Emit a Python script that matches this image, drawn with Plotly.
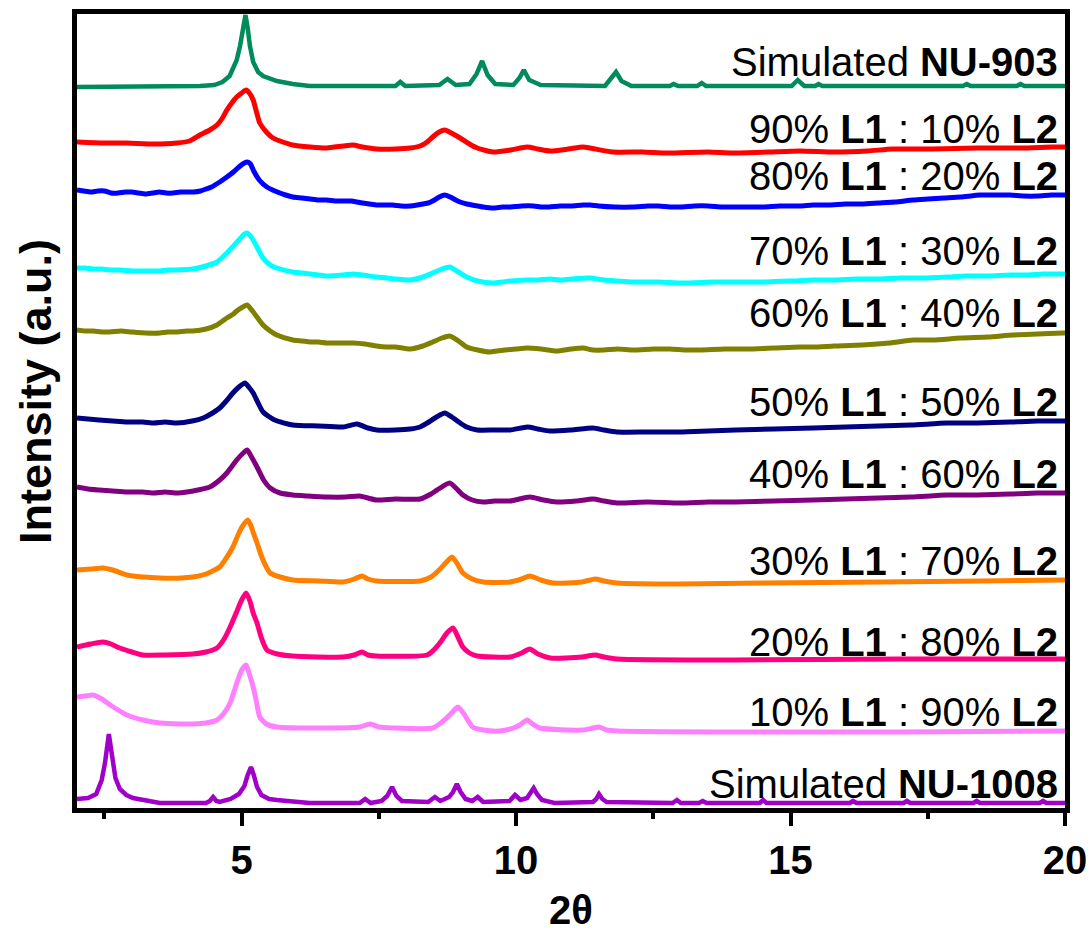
import plotly.graph_objects as go

# 2-theta / intensity (a.u.) pairs for each powder pattern, bottom to top
nu1008 = [(2.00, 9), (2.20, 10), (2.35, 14), (2.45, 28), (2.51, 45), (2.55, 63), (2.58, 74), (2.61, 63),
          (2.65, 48), (2.70, 30), (2.78, 19), (2.90, 13), (3.02, 10), (3.3, 7), (3.51, 5), (4.35, 5),
          (4.42, 7), (4.48, 11), (4.54, 7), (4.60, 6), (4.80, 9), (4.95, 14), (5.05, 22), (5.11, 33),
          (5.17, 41), (5.22, 33), (5.28, 21), (5.36, 13), (5.5, 9), (5.64, 8), (5.95, 6), (6.24, 5),
          (7.15, 5), (7.25, 9), (7.35, 5), (7.55, 7), (7.65, 12), (7.74, 21), (7.82, 12), (7.92, 7),
          (8.40, 6), (8.52, 11), (8.62, 7), (8.78, 11), (8.85, 16), (8.92, 24), (8.99, 16), (9.08, 9),
          (9.2, 7), (9.30, 11), (9.40, 6), (9.88, 7), (9.98, 13), (10.08, 8), (10.20, 10), (10.26, 15),
          (10.32, 20), (10.38, 14), (10.47, 8), (10.70, 5), (11.40, 6), (11.46, 9), (11.51, 14),
          (11.57, 9), (11.65, 6), (12.85, 5), (12.93, 8), (13.0, 5), (13.33, 5), (13.40, 7), (13.47, 5),
          (14.44, 5), (14.5, 8), (14.56, 5), (16.08, 5), (16.14, 7), (16.2, 5), (17.06, 5), (17.12, 7),
          (17.18, 5), (18.33, 5), (18.39, 7), (18.45, 5), (19.54, 5), (19.60, 7), (19.66, 5), (20.0, 5)]

l1_10 = [(2.00, 41), (2.15, 42), (2.29, 43), (2.45, 39), (2.66, 31), (2.91, 23), (3.2, 18), (3.51, 15),
         (3.9, 14), (4.11, 14), (4.35, 15), (4.55, 18), (4.68, 25), (4.79, 35), (4.87, 48), (4.93, 58),
         (5.00, 68), (5.08, 73), (5.14, 64), (5.21, 51), (5.27, 36), (5.33, 21), (5.45, 14), (5.64, 11),
         (6.55, 10), (7.15, 11), (7.34, 14), (7.5, 11), (7.76, 10), (8.48, 10), (8.65, 16), (8.79, 23),
         (8.94, 31), (9.05, 24), (9.21, 11), (9.40, 8), (9.70, 7), (9.95, 10), (10.07, 13), (10.20, 18),
         (10.3, 14), (10.43, 10), (11.22, 8), (11.40, 10), (11.51, 11), (11.65, 8), (11.84, 7),
         (14.0, 6), (17.0, 6), (19.96, 7), (20.0, 7)]

l1_20 = [(2.00, 16), (2.25, 19), (2.47, 21), (2.62, 19), (2.78, 15), (3.0, 11), (3.20, 8), (3.6, 8),
         (4.11, 9), (4.35, 11), (4.55, 15), (4.68, 24), (4.79, 36), (4.90, 50), (5.00, 63), (5.08, 70),
         (5.15, 62), (5.21, 50), (5.28, 40), (5.36, 25), (5.46, 13), (5.65, 9), (5.93, 7), (6.85, 6),
         (7.05, 8), (7.19, 11), (7.3, 8), (7.46, 7), (8.38, 8), (8.50, 13), (8.61, 20), (8.74, 30),
         (8.85, 35), (8.94, 26), (9.03, 16), (9.15, 10), (9.29, 7), (9.89, 6), (10.1, 10), (10.25, 14),
         (10.4, 9), (10.62, 5), (11.2, 6), (11.44, 8), (11.6, 6), (11.84, 4), (14.0, 3), (17.0, 4),
         (19.96, 4), (20.0, 4)]

l1_30 = [(2.00, 18), (2.25, 19), (2.47, 20), (2.65, 18), (2.91, 13), (3.2, 11), (3.51, 10), (3.9, 10),
         (4.11, 11), (4.35, 14), (4.60, 21), (4.72, 30), (4.84, 41), (4.95, 55), (5.03, 63), (5.11, 68),
         (5.17, 62), (5.22, 54), (5.28, 45), (5.36, 32), (5.44, 22), (5.52, 15), (5.7, 11), (5.93, 8),
         (6.4, 7), (6.85, 6), (7.05, 9), (7.19, 12), (7.3, 9), (7.46, 7), (8.25, 7), (8.45, 11),
         (8.56, 16), (8.70, 24), (8.83, 31), (8.93, 24), (9.03, 15), (9.2, 9), (9.40, 6), (9.89, 6),
         (10.1, 9), (10.25, 12), (10.45, 8), (10.67, 5), (11.2, 6), (11.44, 9), (11.6, 7), (11.84, 5),
         (12.98, 4), (14.5, 5), (16.63, 6), (18.5, 7), (19.96, 8), (20.0, 8)]

l1_40 = [(2.00, 21), (2.2, 19), (2.4, 18), (2.65, 17), (2.91, 16), (3.2, 16), (3.4, 15), (3.6, 16),
         (3.82, 15), (4.0, 16), (4.2, 18), (4.42, 21), (4.6, 28), (4.73, 35), (4.91, 48), (5.03, 55),
         (5.10, 58), (5.18, 51), (5.28, 41), (5.40, 28), (5.52, 20), (5.7, 15), (5.93, 13), (6.2, 12),
         (6.55, 11), (6.9, 11), (7.15, 12), (7.3, 10), (7.46, 8), (7.8, 9), (8.25, 9), (8.45, 14),
         (8.56, 18), (8.79, 25), (8.92, 19), (9.03, 13), (9.2, 8), (9.40, 6), (9.6, 7), (9.89, 7),
         (10.25, 11), (10.5, 8), (10.74, 6), (11.1, 7), (11.40, 9), (11.6, 7), (11.84, 5), (12.4, 6),
         (12.98, 5), (13.5, 6), (14.0, 6), (14.7, 7), (15.41, 8), (16.0, 9), (16.6, 10), (17.2, 11),
         (17.85, 13), (18.4, 13), (19.0, 14), (19.5, 15), (19.96, 15), (20.0, 15)]

l1_50 = [(2.00, 20), (2.2, 19), (2.4, 18), (2.65, 17), (2.91, 16), (3.2, 16), (3.4, 15), (3.6, 16),
         (3.82, 15), (4.1, 17), (4.30, 20), (4.47, 25), (4.60, 30), (4.72, 37), (4.84, 45), (4.95, 51),
         (5.06, 55), (5.13, 51), (5.21, 45), (5.30, 35), (5.39, 26), (5.6, 18), (5.93, 13), (6.4, 12),
         (6.85, 11), (7.10, 14), (7.3, 10), (7.46, 8), (7.8, 8), (8.07, 9), (8.25, 11), (8.38, 15),
         (8.55, 21), (8.70, 25), (8.83, 21), (8.98, 15), (9.1, 11), (9.29, 8), (9.6, 8), (9.89, 8),
         (10.21, 11), (10.4, 9), (10.62, 7), (11.0, 8), (11.40, 10), (11.6, 8), (11.84, 6), (12.4, 6),
         (12.98, 6), (13.5, 7), (14.0, 8), (14.7, 9), (15.41, 10), (16.0, 11), (16.6, 12), (17.2, 13),
         (17.85, 15), (18.4, 15), (19.0, 16), (19.5, 17), (19.96, 17), (20.0, 17)]

l1_60 = [(2.00, 28), (2.15, 27), (2.3, 27), (2.45, 26), (2.6, 26), (2.8, 27), (3.0, 26), (3.25, 25),
         (3.51, 25), (3.65, 26), (3.8, 26), (4.0, 27), (4.11, 27), (4.35, 29), (4.55, 33), (4.73, 40),
         (4.85, 44), (4.91, 47), (5.02, 51), (5.10, 53), (5.21, 46), (5.39, 33), (5.52, 27), (5.64, 23),
         (5.93, 18), (6.1, 17), (6.25, 16), (6.4, 16), (6.55, 15), (6.8, 15), (7.03, 15), (7.25, 14),
         (7.46, 12), (7.65, 11), (7.8, 11), (8.07, 9), (8.3, 12), (8.48, 16), (8.65, 20), (8.79, 22),
         (8.95, 17), (9.10, 11), (9.3, 8), (9.52, 6), (9.65, 7), (9.8, 8), (10.0, 9), (10.20, 10),
         (10.45, 9), (10.74, 7), (11.0, 9), (11.22, 10), (11.4, 8), (11.6, 8), (11.85, 9), (12.13, 8),
         (12.5, 9), (12.8, 9), (13.1, 8), (13.35, 8), (13.8, 9), (14.2, 9), (14.7, 10), (15.17, 11),
         (15.41, 11), (15.8, 12), (16.3, 13), (16.8, 15), (17.23, 18), (17.6, 18), (18.1, 20),
         (18.6, 21), (19.05, 23), (19.5, 24), (19.96, 25), (20.0, 25)]

l1_70 = [(2.00, 20), (2.15, 20), (2.3, 19), (2.45, 19), (2.6, 18), (2.8, 18), (3.0, 17), (3.25, 17),
         (3.51, 17), (3.65, 18), (3.8, 18), (4.11, 19), (4.35, 22), (4.55, 26), (4.73, 35), (4.85, 42),
         (4.95, 48), (5.05, 54), (5.10, 55), (5.16, 52), (5.24, 45), (5.39, 30), (5.52, 23), (5.64, 20),
         (5.93, 16), (6.1, 15), (6.25, 14), (6.4, 13), (6.55, 12), (6.85, 13), (7.03, 14), (7.2, 13),
         (7.46, 11), (7.65, 10), (7.8, 9), (8.07, 8), (8.3, 11), (8.48, 15), (8.65, 19), (8.79, 21),
         (8.95, 16), (9.10, 11), (9.3, 7), (9.58, 5), (9.75, 6), (9.9, 7), (10.20, 8), (10.4, 8),
         (10.62, 9), (10.8, 8), (11.0, 9), (11.34, 10), (11.6, 8), (11.85, 7), (12.13, 6), (12.6, 6),
         (13.04, 5), (13.6, 6), (14.0, 6), (14.5, 6), (15.0, 7), (15.41, 8), (15.8, 8), (16.2, 9),
         (16.6, 9), (17.0, 10), (17.4, 10), (17.85, 11), (18.2, 12), (18.6, 12), (19.0, 13),
         (19.3, 13), (19.6, 14), (19.96, 14), (20.0, 14)]

l1_80 = [(2.00, 23), (2.12, 22), (2.25, 21), (2.38, 22), (2.5, 22), (2.62, 20), (2.75, 20), (2.88, 21),
         (3.0, 21), (3.12, 20), (3.25, 19), (3.38, 20), (3.5, 21), (3.62, 20), (3.75, 20), (3.88, 21),
         (4.0, 21), (4.12, 21), (4.25, 22), (4.35, 24), (4.45, 26), (4.6, 31), (4.73, 36), (4.85, 41),
         (4.95, 46), (5.05, 50), (5.10, 51), (5.16, 49), (5.22, 42), (5.32, 33), (5.46, 26), (5.65, 21),
         (5.8, 18), (5.93, 16), (6.1, 15), (6.25, 14), (6.4, 13), (6.55, 13), (6.7, 12), (6.85, 12),
         (7.0, 12), (7.1, 11), (7.2, 10), (7.33, 9), (7.46, 8), (7.6, 8), (7.75, 8), (7.9, 7),
         (8.07, 7), (8.2, 8), (8.3, 9), (8.4, 10), (8.48, 12), (8.6, 16), (8.7, 18), (8.8, 16),
         (8.9, 13), (8.98, 11), (9.1, 9), (9.2, 8), (9.4, 6), (9.58, 5), (9.75, 6), (9.9, 6),
         (10.1, 7), (10.32, 7), (10.45, 6), (10.6, 6), (10.8, 7), (11.0, 7), (11.22, 8), (11.35, 8),
         (11.5, 7), (11.8, 6), (12.13, 6), (12.4, 7), (12.6, 7), (12.8, 6), (13.0, 6), (13.25, 7),
         (13.5, 7), (13.75, 6), (13.95, 6), (14.2, 6), (14.5, 6), (14.8, 7), (15.17, 7), (15.41, 8),
         (15.7, 8), (16.0, 9), (16.3, 9), (16.6, 10), (16.9, 11), (17.23, 13), (17.5, 14), (17.8, 15),
         (18.1, 16), (18.45, 18), (18.7, 18), (19.0, 18), (19.25, 17), (19.5, 17), (19.75, 18),
         (19.96, 18), (20.0, 18)]

l1_90 = [(2.00, 16), (2.5, 15), (2.91, 15), (3.4, 14), (3.82, 15), (4.05, 17), (4.24, 23), (4.42, 28),
         (4.55, 33), (4.65, 40), (4.73, 48), (4.82, 55), (4.91, 61), (5.00, 65), (5.08, 68), (5.14, 65),
         (5.21, 58), (5.27, 46), (5.33, 35), (5.45, 26), (5.57, 20), (5.75, 16), (5.93, 13), (6.25, 11),
         (6.55, 10), (6.85, 12), (7.03, 13), (7.2, 11), (7.46, 9), (7.8, 9), (8.07, 10), (8.25, 12),
         (8.38, 16), (8.48, 21), (8.6, 26), (8.70, 28), (8.82, 25), (8.98, 20), (9.15, 14), (9.29, 10),
         (9.58, 6), (9.9, 8), (10.20, 11), (10.4, 9), (10.62, 7), (10.95, 9), (11.22, 11), (11.35, 10),
         (11.76, 6), (12.3, 6), (12.75, 5), (13.5, 6), (13.95, 5), (14.6, 6), (15.17, 7), (15.8, 6),
         (16.4, 7), (16.86, 9), (17.6, 9), (18.4, 10), (19.2, 10), (19.78, 11), (20.0, 11)]

nu903 = [(2.00, 1), (3.5, 1), (4.24, 2), (4.5, 3), (4.65, 6), (4.78, 12), (4.91, 28), (4.97, 42),
         (5.02, 60), (5.07, 73), (5.11, 60), (5.15, 42), (5.21, 26), (5.30, 16), (5.39, 12), (5.64, 7),
         (5.93, 4), (6.24, 2), (7.80, 2), (7.89, 6), (7.98, 2), (8.60, 3), (8.75, 9), (8.90, 3),
         (9.15, 4), (9.28, 14), (9.38, 27), (9.48, 13), (9.62, 4), (9.95, 3), (10.06, 10), (10.14, 18),
         (10.24, 8), (10.45, 3), (11.62, 2), (11.73, 9), (11.82, 16), (11.92, 7), (12.10, 2),
         (12.80, 2), (12.87, 4), (12.95, 2), (13.30, 2), (13.38, 5), (13.46, 2), (15.02, 2), (15.13, 8),
         (15.25, 2), (15.45, 2), (15.51, 4), (15.58, 2), (18.14, 2), (18.21, 4), (18.28, 2), (19.12, 2),
         (19.19, 4), (19.26, 2), (20.0, 2)]

# stacking offsets (a.u.) and styling, bottom to top
patterns = [nu1008, l1_10, l1_20, l1_30, l1_40, l1_50, l1_60, l1_70, l1_80, l1_90, nu903]
offsets = [0, 70, 145, 220, 300, 370, 450, 520, 595, 650, 720]
colors = ["#A000C8", "#FF80FF", "#FF0080", "#FF8000", "#800080", "#000080",
          "#808000", "#00FFFF", "#0000FF", "#FF0000", "#008B5A"]
simulated = [True] + [False] * 9 + [True]
labels = ["Simulated <b>NU-1008</b>",
          "10% <b>L1</b> : 90% <b>L2</b>",
          "20% <b>L1</b> : 80% <b>L2</b>",
          "30% <b>L1</b> : 70% <b>L2</b>",
          "40% <b>L1</b> : 60% <b>L2</b>",
          "50% <b>L1</b> : 50% <b>L2</b>",
          "60% <b>L1</b> : 40% <b>L2</b>",
          "70% <b>L1</b> : 30% <b>L2</b>",
          "80% <b>L1</b> : 20% <b>L2</b>",
          "90% <b>L1</b> : 10% <b>L2</b>",
          "Simulated <b>NU-903</b>"]
label_y = [24, 96, 166, 247, 334, 406, 495, 557, 632, 679, 746]

x_ticks = [5, 10, 15, 20]
x_minor = [2.5, 7.5, 12.5, 17.5]

FONT = "Arial, Liberation Sans, sans-serif"

fig = go.Figure()
for pat, off, col, sim in zip(patterns, offsets, colors, simulated):
    tth = [p[0] for p in pat]
    inten = [p[1] + off for p in pat]
    fig.add_trace(go.Scatter(
        x=tth, y=inten, mode="lines",
        line=dict(color=col, width=4.5 if sim else 5,
                  shape="linear" if sim else "spline",
                  smoothing=0.6),
        showlegend=False, hoverinfo="skip"))

for txt, y in zip(labels, label_y):
    fig.add_annotation(x=1.0, xref="paper", xanchor="right", xshift=-5,
                       y=y, yref="y", yanchor="middle", text=txt, showarrow=False,
                       font=dict(family=FONT, size=40, color="black"))

fig.add_annotation(x=-0.0425, xref="paper", y=416, yref="y", textangle=-90,
                   xanchor="center", yanchor="middle", showarrow=False,
                   text="<b>Intensity (a.u.)</b>",
                   font=dict(family=FONT, size=45, color="black"))
fig.add_annotation(x=0.5, xref="paper", y=-0.128, yref="paper",
                   xanchor="center", yanchor="middle", showarrow=False,
                   text="<b>2θ</b>",
                   font=dict(family=FONT, size=40, color="black"))

fig.update_layout(
    width=1092, height=945,
    margin=dict(l=77, r=27, t=14, b=137, autoexpand=False),
    paper_bgcolor="white", plot_bgcolor="white",
    xaxis=dict(range=[2, 20], showgrid=False, zeroline=False, automargin=False,
               showline=True, linecolor="black", linewidth=5, mirror=True,
               tickmode="array", tickvals=x_ticks, ticktext=[str(t) for t in x_ticks],
               ticks="outside", ticklen=13, tickwidth=4, tickcolor="black",
               tickfont=dict(family=FONT, size=40, color="black", weight="bold"),
               minor=dict(tickmode="array", tickvals=x_minor, ticks="outside",
                          ticklen=6, tickwidth=4, tickcolor="black", showgrid=False)),
    yaxis=dict(range=[0, 794], showgrid=False, zeroline=False, automargin=False,
               showline=True, linecolor="black", linewidth=5, mirror=True,
               showticklabels=False, ticks=""),
)

fig.write_html("out.html")
